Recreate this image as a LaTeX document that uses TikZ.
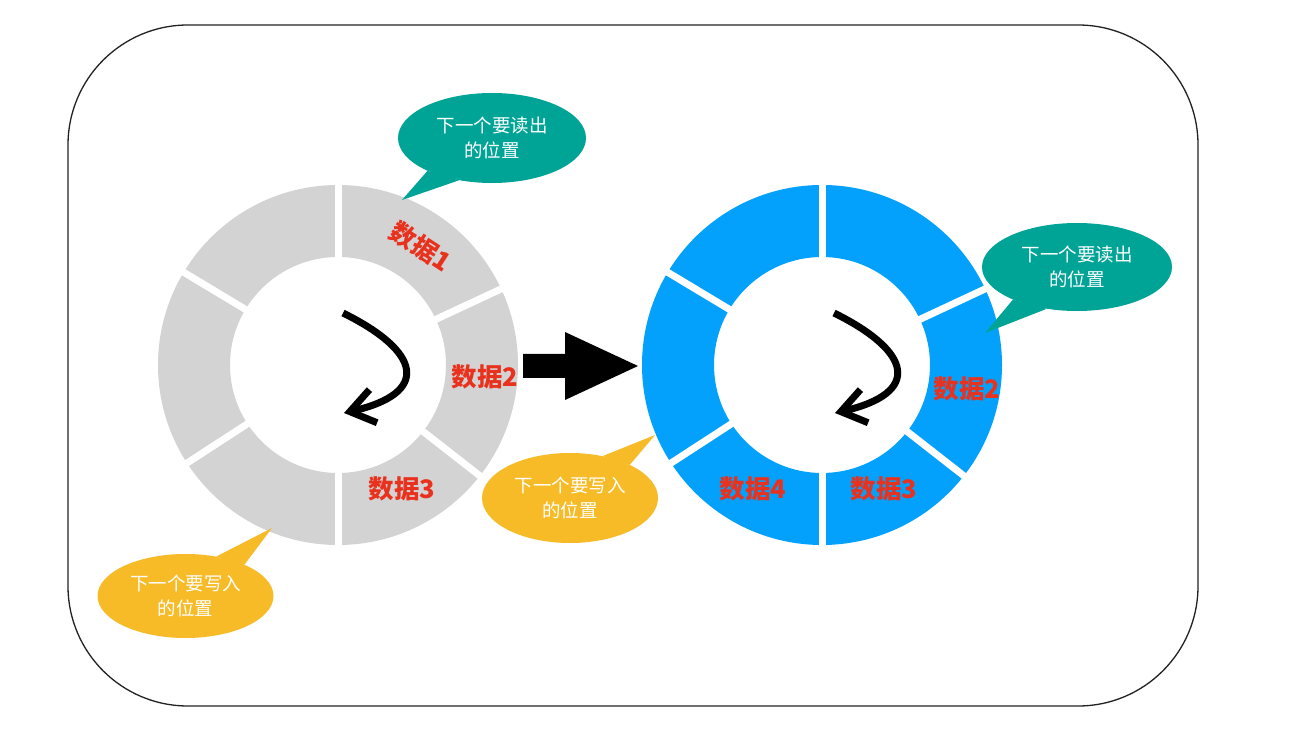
\documentclass[tikz,border=0pt]{standalone}
\usepackage{fontspec}
\newfontfamily\cjk{Noto Sans CJK SC}
\usetikzlibrary{arrows.meta,shapes.geometric}
\definecolor{ringgray}{HTML}{D3D3D3}
\definecolor{ringblue}{HTML}{03A1FC}
\definecolor{bubteal}{HTML}{00A497}
\definecolor{bubyellow}{HTML}{F6BB27}
\definecolor{datared}{HTML}{E8321E}
\definecolor{framecol}{HTML}{222222}
\begin{document}
\begin{tikzpicture}[x=1pt,y=1pt,
  datalabel/.style={text=datared, font=\cjk\bfseries\fontsize{25.5pt}{28pt}\selectfont, inner sep=0pt},
  bubble/.style={ellipse, inner sep=0pt, text=white, align=center, font=\cjk\fontsize{18.5pt}{25pt}\selectfont},
  gapline/.style={white, line width=7pt},
  turnarrow/.style={line width=7pt, -{Straight Barb[length=24pt,width=34pt]}},
]
\useasboundingbox (0,0) rectangle (1298,734);
\fill[white] (0,0) rectangle (1298,734);

% frame
\draw[framecol, line width=1.3pt, rounded corners=120pt] (68,28) rectangle (1198,709);

% rings
\coordinate (ringL) at (338,369);
\coordinate (ringR) at (822,369);
\fill[ringgray, even odd rule] (ringL) circle[radius=180] circle[radius=108];
\fill[ringblue, even odd rule] (ringR) circle[radius=180] circle[radius=108];
\foreach \a in {90,25,-38,-90,-147,149} {
  \draw[gapline] (ringL) ++(\a:100) -- ++(\a:90);
  \draw[gapline] (ringR) ++(\a:100) -- ++(\a:90);
}

% data labels
\node[datalabel, rotate=-33] (d1L) at (421,487) {数据1};
\node[datalabel] (d2L) at (485,357) {数据2};
\node[datalabel] (d3L) at (402,245) {数据3};
\node[datalabel] (d2R) at (967,345) {数据2};
\node[datalabel] (d3R) at (884,245) {数据3};
\node[datalabel] (d4R) at (753,245) {数据4};

% turning arrows
\coordinate (tLs) at (343,421);
\coordinate (tLe) at (344,321);
\draw[turnarrow] (tLs) .. controls (422,382) and (430,341) .. (tLe);
\coordinate (tRs) at (834,421);
\coordinate (tRe) at (835,321);
\draw[turnarrow] (tRs) .. controls (913,382) and (921,341) .. (tRe);

% big arrow
\coordinate (ba) at (523,368);
\fill[black] (ba) ++(0,12) -- ++(42,0) -- ++(0,22) -- ++(73,-34) -- ++(-73,-34) -- ++(0,22) -- ++(-42,0) -- cycle;

% bubbles
\node[bubble, fill=bubteal, minimum width=188pt, minimum height=90pt] (readL) at (492,596) {下一个要读出\\的位置};
\coordinate (readLtip) at (402,534);
\fill[bubteal] (readL.207) -- (readLtip) -- (readL.232) -- cycle;

\node[bubble, fill=bubyellow, minimum width=176pt, minimum height=84pt] (writeL) at (185.5,138) {下一个要写入\\的位置};
\coordinate (writeLtip) at (272,206);
\fill[bubyellow] (writeL.52) -- (writeLtip) -- (writeL.28) -- cycle;

\node[bubble, fill=bubteal, minimum width=190pt, minimum height=88pt] (readR) at (1077,467) {下一个要读出\\的位置};
\coordinate (readRtip) at (985,401);
\fill[bubteal] (readR.207) -- (readRtip) -- (readR.234) -- cycle;

\node[bubble, fill=bubyellow, minimum width=176pt, minimum height=90pt] (writeR) at (570,236) {下一个要写入\\的位置};
\coordinate (writeRtip) at (655,299);
\fill[bubyellow] (writeR.52) -- (writeRtip) -- (writeR.29) -- cycle;
\end{tikzpicture}
\end{document}
